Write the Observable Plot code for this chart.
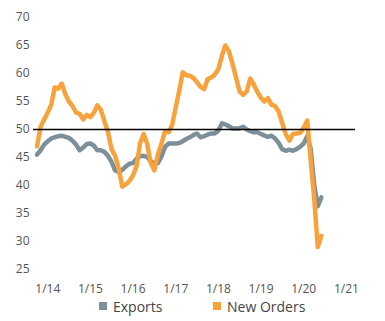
<!DOCTYPE html>
<html><head><meta charset="utf-8">
<script src="https://cdn.jsdelivr.net/npm/d3@7"></script>
<script src="https://cdn.jsdelivr.net/npm/@observablehq/plot@0.6"></script>
<style>
body{margin:0;background:#fff;font-family:"Open Sans",sans-serif;}
#wrap{position:relative;width:385px;height:321px;}
#legend{position:absolute;top:296px;left:0;width:385px;height:20px;font-size:14px;color:#444;}
.item{position:absolute;top:0;display:flex;align-items:center;height:20px;}
.sw{width:8px;height:8px;margin-right:6px;}
</style></head><body><div id="wrap"><div id="chart"></div><div id="legend"></div></div>
<script>
const seriesNames = ["Exports", "New Orders"];
const seriesColors = ["#7D8F99", "#F7A23B"];
const startMonth = [2013, 9]; // Oct 2013
const exportsVals = [45.5,46.3,47.3,47.9,48.4,48.6,48.8,48.9,48.7,48.5,48.0,47.3,46.3,46.8,47.4,47.5,47.1,46.3,46.3,46.0,45.3,44.2,42.7,42.4,42.8,43.4,43.9,44.0,44.8,45.2,45.3,45.1,44.3,44.0,44.0,45.2,46.9,47.5,47.5,47.5,47.6,47.9,48.3,48.6,49.0,49.3,48.6,48.8,49.1,49.3,49.3,49.8,51.1,50.9,50.6,50.2,50.2,50.2,50.5,50.0,49.7,49.5,49.5,49.2,48.9,48.7,48.9,48.4,47.6,46.5,46.2,46.4,46.2,46.5,46.9,47.5,48.8,46.6,40.0,36.3,37.9];
const newOrdersVals = [47.0,50.5,51.8,53.0,54.5,57.5,57.3,58.2,56.3,55.0,54.2,53.0,52.8,51.8,52.6,52.2,53.0,54.3,53.5,51.5,49.5,46.5,45.3,43.0,39.8,40.2,40.8,41.8,43.5,47.5,49.2,47.5,44.0,42.7,45.5,47.5,49.7,49.5,50.8,54.0,57.0,60.2,59.7,59.6,59.2,58.5,57.6,57.2,59.0,59.3,59.8,60.8,63.2,65.0,64.0,61.8,59.3,56.8,56.2,56.8,59.1,58.0,56.7,55.6,55.0,55.6,54.4,54.2,53.2,51.2,49.2,48.0,49.2,49.3,49.4,50.3,51.6,44.6,37.5,29.0,31.0];
const yTicks = [25,30,35,40,45,50,55,60,65,70];
const xTickLabels = ["1/14","1/15","1/16","1/17","1/18","1/19","1/20","1/21"];
const refLine = [50];

const monthDate = i => new Date(Date.UTC(startMonth[0], startMonth[1] + i, 1));
const data = [];
[exportsVals, newOrdersVals].forEach((vals, s) => vals.forEach((v, i) => data.push({series: seriesNames[s], date: monthDate(i), value: v})));
const xTicks = xTickLabels.map((_, i) => new Date(Date.UTC(2014 + i, 0, 1)));

const plot = Plot.plot({
  width: 385, height: 299,
  marginLeft: 33, marginRight: 30, marginTop: 17, marginBottom: 30,
  style: {fontFamily: "Open Sans", fontSize: "12px", color: "#555", background: "white"},
  x: {type: "utc", domain: [new Date(Date.UTC(2013,8,1)), new Date(Date.UTC(2021,2,20))]},
  y: {domain: [25, 70]},
  color: {domain: seriesNames, range: seriesColors},
  marks: [
    Plot.axisY({ticks: yTicks, tickSize: 0, tickPadding: 4, label: null, fill: "#555"}),
    Plot.axisX({ticks: xTicks, tickFormat: d => xTickLabels[d.getUTCFullYear() - 2014], tickSize: 0, tickPadding: 15, label: null, fill: "#555"}),
    Plot.line(data, {x: "date", y: "value", z: "series", stroke: "series", strokeWidth: 4.5, strokeLinejoin: "round", strokeLinecap: "round"}),
    Plot.ruleY(refLine, {stroke: "black", strokeWidth: 1.5})
  ]
});
document.getElementById("chart").appendChild(plot);

const lg = document.getElementById("legend");
const lefts = [99, 213];
seriesNames.forEach((n, i) => {
  const it = document.createElement("div");
  it.className = "item"; it.style.left = lefts[i] + "px";
  it.innerHTML = `<span class="sw" style="background:${seriesColors[i]}"></span><span>${n}</span>`;
  lg.appendChild(it);
});
</script></body></html>
